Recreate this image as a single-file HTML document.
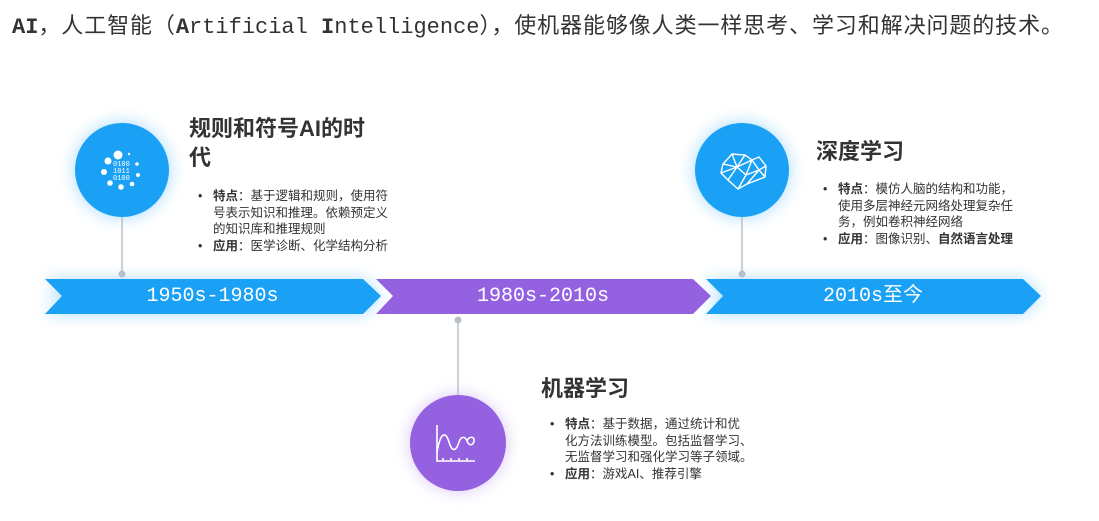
<!DOCTYPE html>
<html><head><meta charset="utf-8"><style>
body{margin:0;width:1099px;height:521px;background:#fff;position:relative;overflow:hidden;font-family:"Liberation Sans","Noto Sans CJK SC",sans-serif;color:#333}
.hdr{position:absolute;left:12px;top:8px;font-size:22px;white-space:nowrap;color:#333}
.c{letter-spacing:0.9px}
.m{font-family:"Liberation Mono","Noto Sans CJK SC",monospace}
.h{position:absolute;font-size:22px;font-weight:bold;color:#333;line-height:29px}
ul{position:absolute;margin:0;padding:0 0 0 15px;font-size:12.5px;line-height:16.5px;color:#333;list-style:none}
li{position:relative}
li:before{content:"•";position:absolute;left:-15px;top:0}
b{font-weight:bold}
.lbl{position:absolute;color:#fff;font-family:"Liberation Mono","Noto Sans CJK SC",monospace;font-size:20px;top:279px;height:35px;line-height:35px;text-align:center;white-space:nowrap}
</style></head><body>
<div class="hdr"><b class="m">AI</b><span class="c">，人工智能（</span><b class="m">A</b><span class="m">rtificial </span><b class="m">I</b><span class="m">ntelligence</span><span class="c">），使机器能够像人类一样思考、学习和解决问题的技术。</span></div>
<svg width="1099" height="521" style="position:absolute;left:0;top:0">
<defs>
<filter id="gb" x="-30%" y="-30%" width="160%" height="160%"><feGaussianBlur stdDeviation="8"/></filter>
</defs>
<g filter="url(#gb)" opacity="0.35">
<polygon points="45,279 363,279 381,296 363,314 45,314 62,296" fill="#1aa0f5"/>
<polygon points="706,279 1023,279 1041,296 1023,314 706,314 723,296" fill="#1aa0f5"/>
<circle cx="122" cy="170" r="48" fill="#1aa0f5"/>
<circle cx="742" cy="170" r="48" fill="#1aa0f5"/>
<circle cx="458" cy="443" r="48" fill="#9461e0"/>
</g>
<line x1="122" y1="215" x2="122" y2="274" stroke="#b8c0cc" stroke-width="1.5"/>
<line x1="742" y1="215" x2="742" y2="274" stroke="#b8c0cc" stroke-width="1.5"/>
<line x1="458" y1="320" x2="458" y2="398" stroke="#b8c0cc" stroke-width="1.5"/>
<circle cx="122" cy="274" r="3.5" fill="#b8c0cc"/>
<circle cx="742" cy="274" r="3.5" fill="#b8c0cc"/>
<circle cx="458" cy="320" r="3.5" fill="#b8c0cc"/>
<polygon points="45,279 363,279 381,296 363,314 45,314 62,296" fill="#1aa0f5"/>
<polygon points="376,279 693,279 711,296 693,314 376,314 393,296" fill="#9461e0"/>
<polygon points="706,279 1023,279 1041,296 1023,314 706,314 723,296" fill="#1aa0f5"/>
<circle cx="122" cy="170" r="47" fill="#1aa0f5"/>
<circle cx="742" cy="170" r="47" fill="#1aa0f5"/>
<circle cx="458" cy="443" r="48" fill="#9461e0"/>
<g fill="#fff">
<circle cx="118" cy="155" r="4.5"/><circle cx="108" cy="161" r="3.5"/><circle cx="104" cy="172" r="3"/><circle cx="110" cy="183" r="2.8"/><circle cx="121" cy="187" r="2.8"/><circle cx="132" cy="184" r="2.3"/><circle cx="138" cy="175" r="2"/><circle cx="137" cy="164" r="1.8"/><circle cx="129" cy="154" r="1.2"/>
<text x="113" y="166" font-size="7" font-family="Liberation Mono,monospace">0100</text>
<text x="113" y="173" font-size="7" font-family="Liberation Mono,monospace">1011</text>
<text x="113" y="180" font-size="7" font-family="Liberation Mono,monospace">0100</text>
</g>
<g stroke="#fff" stroke-width="1.4" fill="none">
<path d="M723,164 L732,154 L745,155 L752,160 L759,157 L766,166 L765,177 L747,184 L738,189 L728,180 L721,173 Z"/>
<path d="M732,154 L737,167 L723,164 M737,167 L745,155 M737,167 L752,160 M737,167 L728,180 M737,167 L746,175 L738,189 M746,175 L752,160 L759,170 L766,166 M759,170 L765,177 M746,175 L759,170 L747,184 M721,173 L737,167"/>
</g>
<g stroke="#fff" stroke-width="1.6" fill="none">
<path d="M437,425 L437,461 L475,461"/>
<path d="M443,461 v-3 M451,461 v-3 M459,461 v-3 M467,461 v-3"/>
<path d="M437,452 C441,430 446,432 449,442 C452,452 456,452 459,442 C461,436 465,436 467,441 C469,446 473,446 474,441 C475,436 469,436 467,441"/>
</g>
</svg>
<div class="lbl" style="left:62px;width:301px">1950s-1980s</div>
<div class="lbl" style="left:393px;width:300px">1980s-2010s</div>
<div class="lbl" style="left:723px;width:300px">2010s至今</div>

<div class="h" style="left:189px;top:114px;width:185px">规则和符号AI的时代</div>
<ul style="left:198px;top:188px;width:180px">
<li><b>特点</b>：基于逻辑和规则，使用符号表示知识和推理。依赖预定义的知识库和推理规则</li>
<li><b>应用</b>：医学诊断、化学结构分析</li>
</ul>
<div class="h" style="left:816px;top:137px">深度学习</div>
<ul style="left:823px;top:181px;width:182px">
<li><b>特点</b>：模仿人脑的结构和功能，使用多层神经元网络处理复杂任务，例如卷积神经网络</li>
<li><b>应用</b>：图像识别、<b>自然语言处理</b></li>
</ul>
<div class="h" style="left:541px;top:374px">机器学习</div>
<ul style="left:550px;top:416px;width:220px;white-space:nowrap">
<li><b>特点</b>：基于数据，通过统计和优<br>化方法训练模型。包括监督学习、<br>无监督学习和强化学习等子领域。</li>
<li><b>应用</b>：游戏AI、推荐引擎</li>
</ul>
</body></html>
